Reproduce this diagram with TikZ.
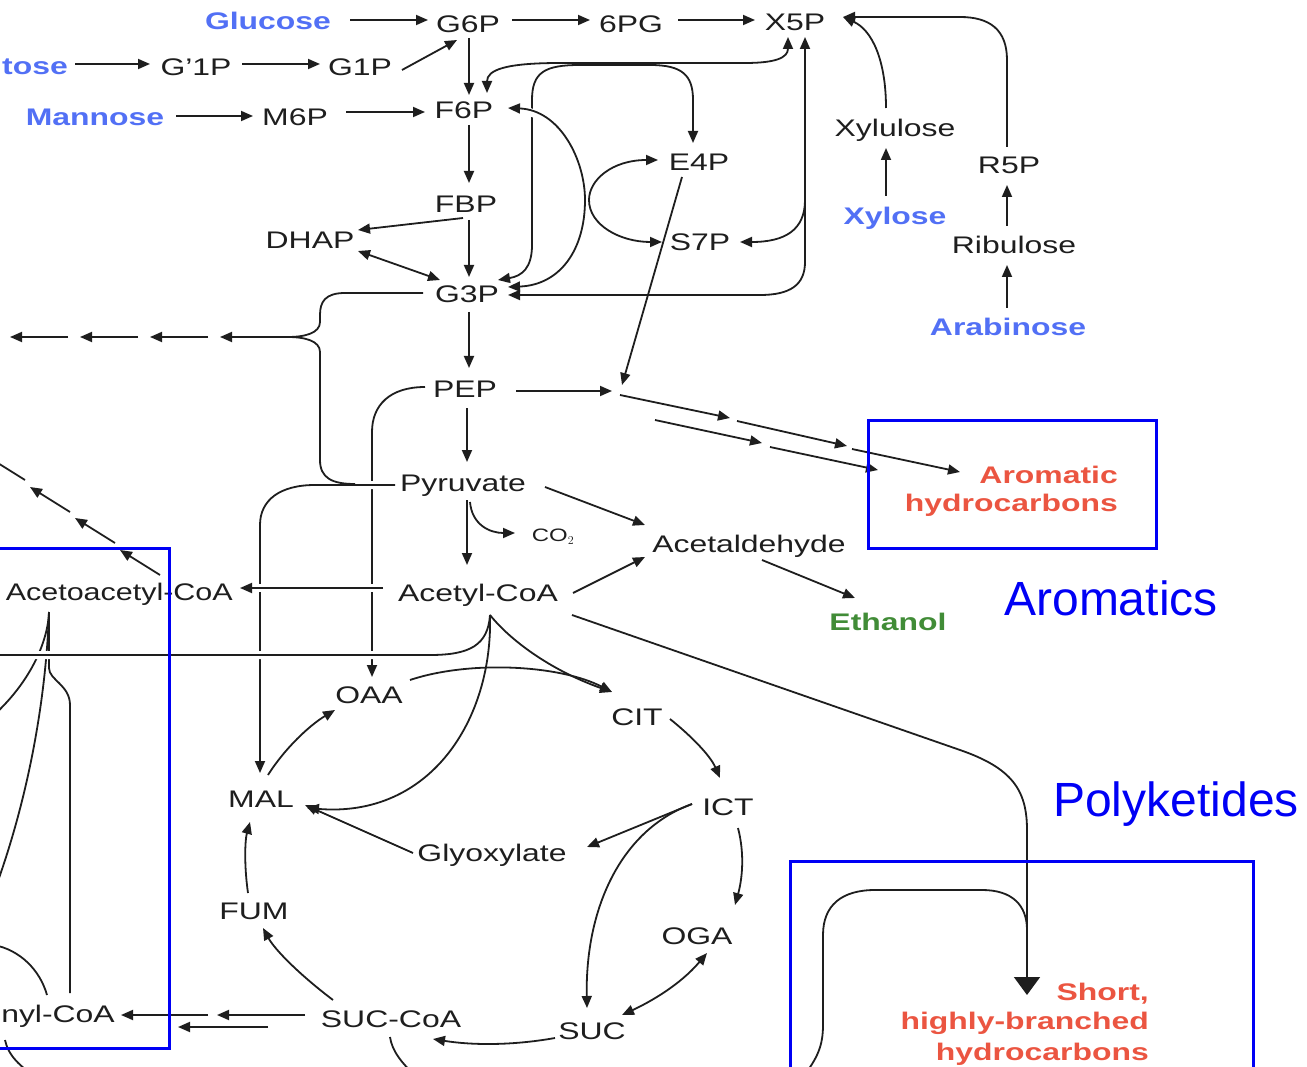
\documentclass[tikz,border=0pt]{standalone}
\usepackage{fontspec}
\setmainfont[FakeStretch=1.33]{Liberation Sans}
\newfontfamily\plainsans{Liberation Sans}
\newfontfamily\narrowsans[FakeStretch=1.27]{Liberation Sans}
\usetikzlibrary{arrows.meta,calc}
\definecolor{ink}{RGB}{30,30,30}
\definecolor{sugar}{RGB}{82,112,245}
\definecolor{prod}{RGB}{235,85,65}
\definecolor{eth}{RGB}{65,140,55}
\definecolor{boxblue}{RGB}{0,0,245}
\tikzset{
 lb/.style={font=\fontsize{24}{28}\selectfont, text=ink, inner sep=0pt, text height=17pt, text depth=0pt},
 sg/.style={lb, font=\fontsize{24}{28}\selectfont\bfseries, text=sugar},
 pr/.style={lb, font=\fontsize{24}{28}\selectfont\bfseries, text=prod},
 et/.style={lb, font=\fontsize{24}{28}\selectfont\bfseries, text=eth},
 ln/.style={draw=ink, line width=1.8pt},
 ar/.style={ln, -{Triangle[length=12pt,width=10pt]}},
 lr/.style={ln, {Triangle[length=12pt,width=10pt]}-{Triangle[length=12pt,width=10pt]}},
 halo/.style={preaction={draw=white, line width=8pt, -}},
 bx/.style={draw=boxblue, line width=3pt},
 big/.style={font=\plainsans\fontsize{48}{52}\selectfont, text=boxblue, inner sep=0pt, text height=35pt, text depth=0pt},
}
\begin{document}
\begin{tikzpicture}[x=1pt,y=-1pt]
\useasboundingbox (0,0) rectangle (1307,1067);
\clip (0,0) rectangle (1307,1067);
% ---------- nodes ----------
\node[sg] (glucose) at (268,21) {Glucose};
\node[lb] (g6p) at (468,24) {G6P};
\node[lb] (pg) at (631,24) {6PG};
\node[lb] (x5p) at (795,22) {X5P};
\node[sg, anchor=east] (tose) at (68,66) {tose};
\node[lb] (gpa) at (196,67) {G’1P};
\node[lb] (g1p) at (360,67) {G1P};
\node[sg] (mannose) at (95,117) {Mannose};
\node[lb] (m6p) at (295,117) {M6P};
\node[lb] (f6p) at (464,110) {F6P};
\node[lb] (e4p) at (699,162) {E4P};
\node[lb] (fbp) at (466,204) {FBP};
\node[lb] (dhap) at (310,240) {DHAP};
\node[lb] (s7p) at (700,242) {S7P};
\node[lb] (g3p) at (467,294) {G3P};
\node[lb] (xylulose) at (895,128) {Xylulose};
\node[lb] (r5p) at (1009,165) {R5P};
\node[sg] (xylose) at (895,216) {Xylose};
\node[lb] (ribulose) at (1014,245) {Ribulose};
\node[sg] (arabinose) at (1008,327) {Arabinose};
\node[lb] (pep) at (465,389) {PEP};
\node[lb] (pyr) at (463,483) {Pyruvate};
\node[lb, font=\fontsize{18}{20}\selectfont, text height=13pt] (co2) at (553,535) {CO$_2$};
\node[lb] (acald) at (749,544) {Acetaldehyde};
\node[lb] (accoa) at (478,593) {Acetyl-CoA};
\node[et] (ethanol) at (888,622) {Ethanol};
\node[lb, font=\narrowsans\fontsize{24}{28}\selectfont, anchor=east] (acac) at (233,592) {Acetoacetyl-CoA};
\node[lb] (oaa) at (369,695) {OAA};
\node[lb] (cit) at (637,717) {CIT};
\node[lb] (ict) at (728,807) {ICT};
\node[lb] (mal) at (261,799) {MAL};
\node[lb] (glyox) at (492,853) {Glyoxylate};
\node[lb] (fum) at (254,911) {FUM};
\node[lb] (oga) at (697,936) {OGA};
\node[lb] (succoa) at (391,1019) {SUC-CoA};
\node[lb] (suc) at (592,1031) {SUC};
\node[lb, anchor=east] (nyl) at (115,1014) {nyl-CoA};
\node[pr, anchor=east] (arom1) at (1118,475) {Aromatic};
\node[pr, anchor=east] (arom2) at (1118,503) {hydrocarbons};
\node[pr, anchor=east] (short1) at (1149,992) {Short,};
\node[pr, anchor=east] (short2) at (1149,1021) {highly-branched};
\node[pr, anchor=east] (short3) at (1149,1052) {hydrocarbons};
\node[big] (aromatics) at (1111,598) {Aromatics};
\node[big] (polyk) at (1176,799) {Polyketides};
% ---------- coordinates ----------
\coordinate (jct) at (621,390);
\coordinate (brc) at (288,337);
\coordinate (cusp) at ($(accoa)+(12,22)$);
\coordinate (br) at (805,200);
\coordinate (acx) at ($(acac.east)+(-73,-17)$);
\coordinate (acc) at (49,612);
\coordinate (mid1) at (212,1015);
\coordinate (offL1) at (-6,715);
\coordinate (offL2) at (-6,892);
\coordinate (offL3) at (-6,945);
\coordinate (offL4) at (-6,655);
\coordinate (offB1) at (38,1078);
\coordinate (offB2) at (418,1078);
\coordinate (offB3) at (802,1078);
\coordinate (mrg) at (1027,930);
% ---------- top sugar arrows ----------
\draw[ar] ($(glucose)+(82,-1)$) -- ($(g6p)+(-40,-4)$);
\draw[ar] ($(tose.east)+(7,-2)$) -- ($(gpa)+(-46,-3)$);
\draw[ar] ($(gpa)+(46,-3)$) -- ($(g1p)+(-40,-3)$);
\draw[ar] ($(g1p)+(42,3)$) -- ($(g6p)+(-11,16)$);
\draw[ar] ($(mannose)+(81,-1)$) -- ($(m6p)+(-42,-1)$);
\draw[ar] ($(m6p)+(51,-5)$) -- ($(f6p)+(-39,2)$);
\draw[ar] ($(g6p)+(44,-4)$) -- ($(pg)+(-41,-4)$);
\draw[ar] ($(pg)+(47,-4)$) -- ($(x5p)+(-40,-2)$);
\draw[ar] ($(g6p)+(1,14)$) -- ($(f6p)+(5,-15)$);
\draw[ar] ($(f6p)+(5,15)$) -- ($(fbp)+(3,-21)$);
\draw[ar] ($(fbp)+(3,16)$) -- ($(g3p)+(2,-17)$);
\draw[ar] ($(fbp)+(-3,14)$) -- ($(dhap)+(48,-10)$);
\draw[lr] ($(dhap)+(48,11)$) -- ($(g3p)+(-27,-14)$);
% ---------- pentose phosphate ----------
\draw[lr] ($(x5p)+(-7,15)$) .. controls (788,58) and (775,63) .. (745,63) -- (560,63) .. controls (505,63) and (487,70) .. ($(f6p)+(23,-17)$);
\draw[lr] ($(g3p)+(31,-14)$) .. controls (522,276) and (532,268) .. (532,245) -- (532,100) .. controls (532,72) and (545,65) .. (580,65) -- (650,65) .. controls (682,65) and (693,75) .. (693,100) -- ($(e4p)+(-6,-19)$);
\draw[lr, halo] ($(f6p)+(44,-2)$) .. controls (560,110) and (585,160) .. (585,200) .. controls (585,250) and (560,285) .. ($(g3p)+(41,-7)$);
\draw[lr] ($(e4p)+(-41,-2)$) .. controls (612,160) and (589,180) .. (589,200) .. controls (589,225) and (620,242) .. ($(s7p)+(-38,0)$);
\draw[lr] ($(x5p)+(10,15)$) -- (805,262) .. controls (805,285) and (790,295) .. (760,295) -- ($(g3p)+(41,1)$);
\draw[ar] (br) .. controls (805,230) and (785,242) .. ($(s7p)+(40,0)$);
\draw[ar] ($(e4p)+(-17,15)$) -- ($(jct)+(1,-5)$);
% ---------- right sugars ----------
\draw[ar] ($(xylulose)+(-9,-20)$) .. controls (886,60) and (872,30) .. ($(x5p)+(48,-5)$);
\draw[ar] ($(r5p)+(-2,-18)$) -- (1007,60) .. controls (1007,30) and (990,17) .. (960,17) -- ($(x5p)+(48,-5)$);
\draw[ar] ($(xylose)+(-9,-20)$) -- ($(xylulose)+(-9,20)$);
\draw[ar] ($(ribulose)+(-7,-19)$) -- ($(r5p)+(-2,20)$);
\draw[ar] ($(arabinose)+(-1,-19)$) -- ($(ribulose)+(-7,20)$);
% ---------- glycolysis lower ----------
\draw[ar] ($(g3p)+(2,18)$) -- ($(pep)+(4,-21)$);
\draw[ar] ($(pep)+(51,2)$) -- ($(jct)+(-9,1)$);
\draw[ar] ($(pep)+(2,19)$) -- ($(pyr)+(4,-21)$);
\draw[ar] ($(pyr)+(4,17)$) -- ($(accoa)+(-11,-28)$);
\draw[ar] ($(pyr)+(7,19)$) .. controls (472,525) and (490,533) .. ($(co2)+(-38,-2)$);
\draw[ar] ($(pyr)+(82,4)$) -- ($(acald)+(-104,-19)$);
\draw[ar] ($(accoa)+(95,0)$) -- ($(acald)+(-104,13)$);
\draw[ar] ($(acald)+(13,16)$) -- ($(ethanol)+(-33,-24)$);
% aromatic chains
\draw[ar] ($(jct)+(-1,5)$) -- ($(jct)+(109,28)$);
\draw[ar] ($(jct)+(116,31)$) -- ($(jct)+(226,56)$);
\draw[ar] ($(jct)+(231,59)$) -- ($(jct)+(339,82)$);
\draw[ar] ($(jct)+(34,30)$) -- ($(jct)+(141,53)$);
\draw[ar] ($(jct)+(149,57)$) -- ($(jct)+(257,80)$);
% ---------- left crossing lines ----------
\draw[ar] ($(pep)+(-40,-2)$) .. controls (390,387) and (372,405) .. (372,432) -- ($(oaa)+(3,-18)$);
\draw[ln] (acc) .. controls (48,640) and (32,680) .. (offL1);
\draw[ln] (acc) .. controls (46,700) and (28,800) .. (offL2);
\draw[ln] (acc) -- (49,668) .. controls (49,680) and (70,685) .. (70,705) -- ($(nyl.east)+(-45,-21)$);
\draw[ln] (offL3) .. controls (20,950) and (40,970) .. ($(nyl.east)+(-68,-19)$);
\draw[ln] ($(nyl.east)+(-110,26)$) .. controls (8,1055) and (20,1067) .. (offB1);
\draw[ar, halo] ($(pyr)+(-68,2)$) -- (315,485) .. controls (280,485) and (260,500) .. (260,525) -- ($(mal)+(-1,-26)$);
\draw[ln] ($(g3p)+(-44,-1)$) -- (345,293) .. controls (325,293) and (320,302) .. (320,315) -- (320,322) .. controls (320,333) and (305,337) .. (brc) .. controls (305,337) and (320,341) .. (320,352) -- (320,460) .. controls (320,478) and (332,484) .. ($(pyr)+(-108,1)$);
\draw[ar] (brc) -- ($(brc)+(-68,0)$);
\draw[ar] ($(brc)+(-80,0)$) -- ($(brc)+(-138,0)$);
\draw[ar] ($(brc)+(-150,0)$) -- ($(brc)+(-208,0)$);
\draw[ar] ($(brc)+(-220,0)$) -- ($(brc)+(-278,0)$);
\draw[ar, halo] ($(accoa)+(-95,-5)$) -- ($(acac.east)+(7,-4)$);
\draw[ln, halo] (offL4) -- (430,655) .. controls (470,655) and (488,645) .. (cusp);
\draw[ar] (acx) -- ($(acx)+(-40,-25)$);
\draw[ar] ($(acx)+(-45,-32)$) -- ($(acx)+(-85,-57)$);
\draw[ar] ($(acx)+(-90,-63)$) -- ($(acx)+(-130,-88)$);
\draw[ar] ($(acx)+(-135,-95)$) -- ($(acx)+(-175,-120)$);
% ---------- TCA ----------
\draw[ar] (cusp) .. controls (493,720) and (430,818) .. ($(mal)+(46,9)$);
\draw[ar] (cusp) .. controls (510,640) and (550,670) .. ($(cit)+(-25,-25)$);
\draw[ar] ($(oaa)+(41,-15)$) .. controls (470,660) and (560,665) .. ($(cit)+(-25,-25)$);
\draw[ar] ($(cit)+(33,2)$) .. controls (690,735) and (710,755) .. ($(ict)+(-8,-29)$);
\draw[ar] ($(ict)+(-36,-3)$) -- ($(glyox)+(95,-6)$);
\draw[ar] ($(ict)+(-36,-3)$) .. controls (620,830) and (585,910) .. ($(suc)+(-5,-23)$);
\draw[ar] ($(ict)+(10,21)$) .. controls (745,855) and (742,880) .. ($(oga)+(38,-31)$);
\draw[lr] ($(oga)+(10,17)$) .. controls (680,985) and (650,1002) .. ($(suc)+(30,-16)$);
\draw[ar] ($(suc)+(-37,7)$) .. controls (510,1046) and (470,1045) .. ($(succoa)+(42,20)$);
\draw[ar] ($(succoa)+(-58,-19)$) .. controls (300,975) and (275,950) .. ($(fum)+(9,17)$);
\draw[ar] ($(fum)+(-6,-18)$) .. controls (244,865) and (245,840) .. ($(mal)+(-11,23)$);
\draw[ar] ($(mal)+(7,-24)$) .. controls (285,748) and (310,725) .. ($(oaa)+(-34,15)$);
\draw[ar] ($(glyox)+(-79,0)$) -- ($(mal)+(44,6)$);
\draw[ar] ($(succoa)+(-86,-4)$) -- ($(mid1)+(5,0)$);
\draw[ar] ($(mid1)+(-4,0)$) -- ($(nyl.east)+(6,1)$);
\draw[ar] ($(succoa)+(-123,8)$) -- ($(succoa)+(-213,8)$);
\draw[ln] ($(succoa)+(-1,18)$) .. controls (392,1050) and (400,1062) .. (offB2);
% ---------- polyketide route ----------
\draw[ln, -{Triangle[length=18pt,width=26pt]}] ($(accoa)+(94,22)$) -- (960,750) .. controls (1012,768) and (1027,790) .. (1027,830) -- ($(short1.east)+(-122,3)$);
\draw[ln] (offB3) .. controls (818,1058) and (823,1045) .. (823,1025) -- (823,935) .. controls (823,905) and (842,890) .. (875,890) -- (982,890) .. controls (1012,890) and (1027,905) .. (mrg);
% ---------- blue boxes ----------
\draw[bx] (868,420) rectangle (1156,548);
\draw[bx] (-10,548) -- (169,548) -- (169,1048) -- (-10,1048);
\draw[bx] (790,1080) -- (790,861) -- (1253,861) -- (1253,1080);
\end{tikzpicture}
\end{document}
